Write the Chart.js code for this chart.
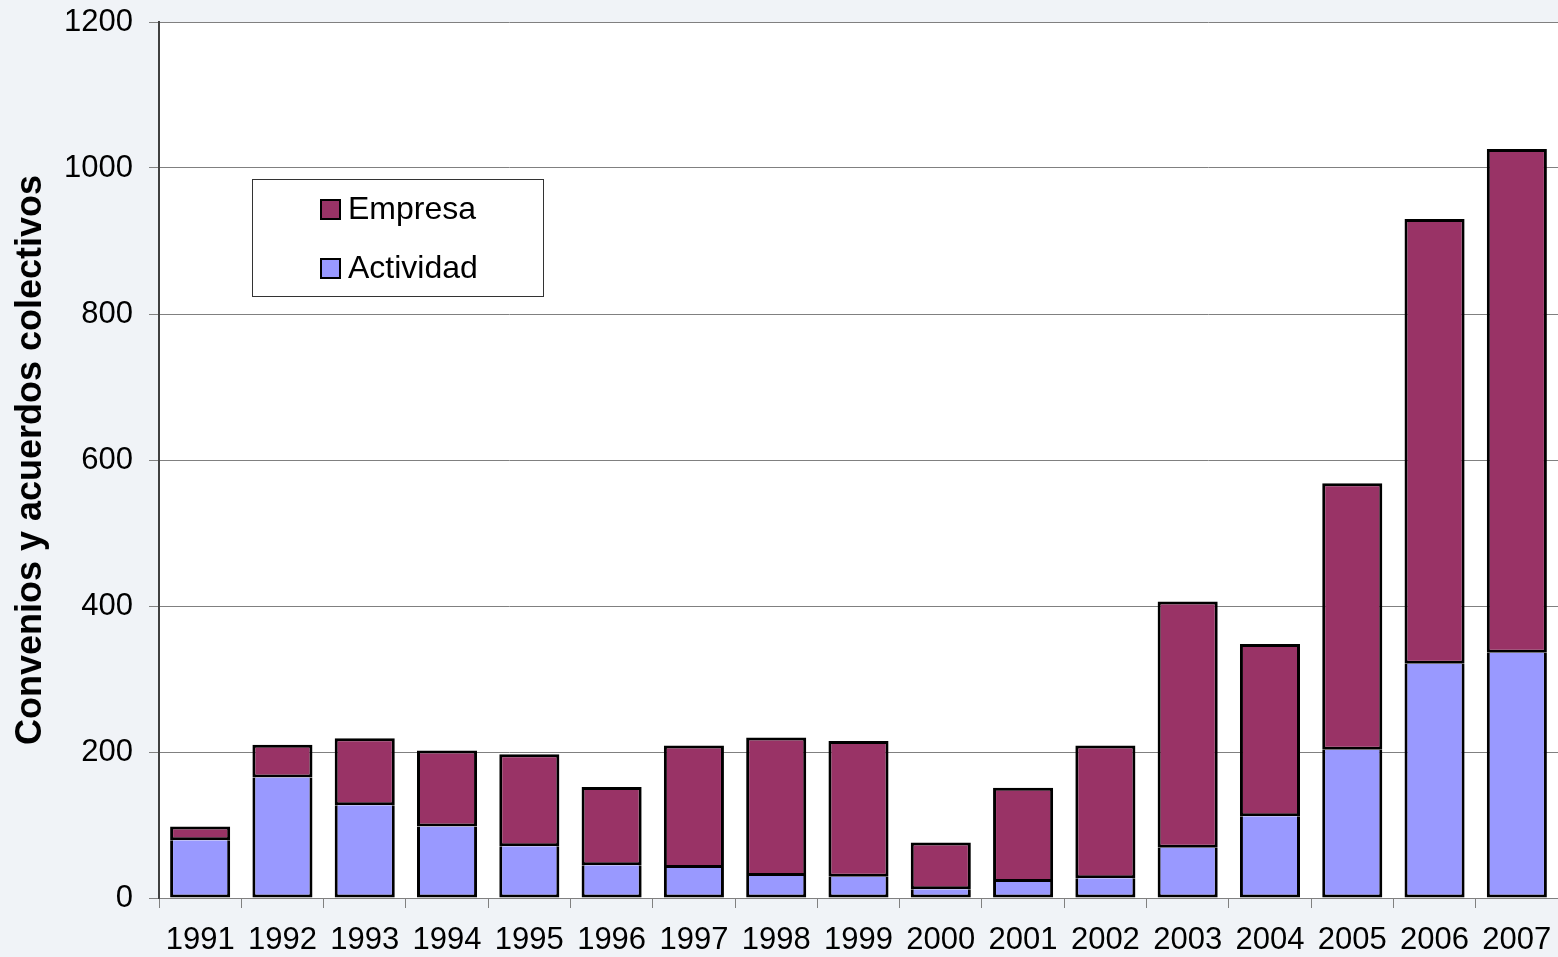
<!DOCTYPE html>
<html>
<head>
<meta charset="utf-8">
<script src="https://cdn.jsdelivr.net/npm/chart.js@4"></script>
<style>
    html, body { margin: 0; padding: 0; background: #f0f3f7; }
    #wrap { width: 1558px; height: 957px; }
</style>
</head>
<body>
<div id="wrap"><canvas id="convChart" width="1558" height="957"></canvas></div>
<script>
const years = ['1991', '1992', '1993', '1994', '1995', '1996', '1997', '1998', '1999',
    '2000', '2001', '2002', '2003', '2004', '2005', '2006', '2007'];
const actividad = [79, 165, 127, 98, 71, 45, 41, 30, 29, 12, 22, 27, 69, 112, 203, 321, 336];
const empresa = [19, 45, 92, 104, 126, 107, 168, 190, 186, 64, 129, 182, 337, 236, 365, 609, 690];
const yTicks = [0, 200, 400, 600, 800, 1000, 1200];

const fontFamily = '"Liberation Sans", Arial, sans-serif';

// background outside / inside plot area
const bgPlugin = {
    id: 'bg',
    beforeDraw: (chart) => {
        const ctx = chart.ctx;
        const a = chart.chartArea;
        ctx.save();
        ctx.fillStyle = '#f0f3f7';
        ctx.fillRect(0, 0, chart.width, chart.height);
        ctx.fillStyle = '#ffffff';
        ctx.fillRect(a.left, a.top, a.right - a.left, a.bottom - a.top);
        ctx.restore();
    }
};

// boxed legend like the original (Empresa on top)
const legendPlugin = {
    id: 'boxLegend',
    afterDraw: (chart) => {
        const ctx = chart.ctx;
        const x = 252, y = 179, w = 291, h = 117;
        ctx.save();
        ctx.fillStyle = '#ffffff';
        ctx.fillRect(x, y, w, h);
        ctx.strokeStyle = '#333333';
        ctx.lineWidth = 1;
        ctx.strokeRect(x + 0.5, y + 0.5, w, h);
        const items = chart.data.datasets.slice().reverse();
        ctx.font = '32px ' + fontFamily;
        ctx.textBaseline = 'middle';
        items.forEach((ds, i) => {
            const cy = 209 + i * 59;
            ctx.fillStyle = ds.backgroundColor;
            ctx.fillRect(321, cy - 9, 19, 19);
            ctx.strokeStyle = '#000000';
            ctx.lineWidth = 2;
            ctx.strokeRect(321, cy - 9, 19, 19);
            ctx.fillStyle = '#000000';
            ctx.fillText(ds.label, 348, cy + 1);
        });
        ctx.restore();
    }
};

const convChart = document.getElementById('convChart');
new Chart(convChart, {
    type: 'bar',
    data: {
        labels: years,
        datasets: [{
            label: 'Actividad',
            data: actividad,
            backgroundColor: '#9999ff',
            borderColor: '#000000',
            borderWidth: 3,
            borderSkipped: 'top',
            barPercentage: 0.73,
            categoryPercentage: 1
        }, {
            label: 'Empresa',
            data: empresa,
            backgroundColor: '#993366',
            borderColor: '#000000',
            borderWidth: 3,
            borderSkipped: false,
            barPercentage: 0.73,
            categoryPercentage: 1
        }]
    },
    plugins: [bgPlugin, legendPlugin],
    options: {
        responsive: false,
        animation: false,
        layout: {
            padding: { top: 22, right: 0, left: 0, bottom: 0 }
        },
        plugins: {
            legend: { display: false },
            tooltip: { enabled: false }
        },
        scales: {
            x: {
                stacked: true,
                afterFit: (scale) => {
                    scale.height = 59;
                    scale.paddingLeft = 0;
                    scale.paddingRight = 0;
                },
                grid: {
                    offset: true,
                    drawOnChartArea: false,
                    tickLength: 10,
                    color: '#808080'
                },
                border: { color: '#808080', width: 1 },
                ticks: {
                    color: '#000000',
                    padding: 14,
                    maxRotation: 0,
                    autoSkip: false,
                    font: { family: fontFamily, size: 31 }
                }
            },
            y: {
                stacked: true,
                min: 0,
                max: 1200,
                afterFit: (scale) => {
                    scale.width = 159;
                    scale.paddingTop = 0;
                    scale.paddingBottom = 0;
                },
                afterBuildTicks: (scale) => {
                    scale.ticks = yTicks.map(v => ({ value: v }));
                },
                grid: {
                    color: '#808080',
                    tickLength: 10
                },
                border: { color: '#404040', width: 2 },
                ticks: {
                    color: '#000000',
                    padding: 16,
                    callback: (v) => String(v),
                    font: { family: fontFamily, size: 31 }
                },
                title: {
                    display: true,
                    text: 'Convenios y acuerdos colectivos',
                    color: '#000000',
                    padding: { top: 9, bottom: 0 },
                    font: { family: fontFamily, size: 36, weight: 'bold' }
                }
            }
        }
    }
});
</script>
</body>
</html>
